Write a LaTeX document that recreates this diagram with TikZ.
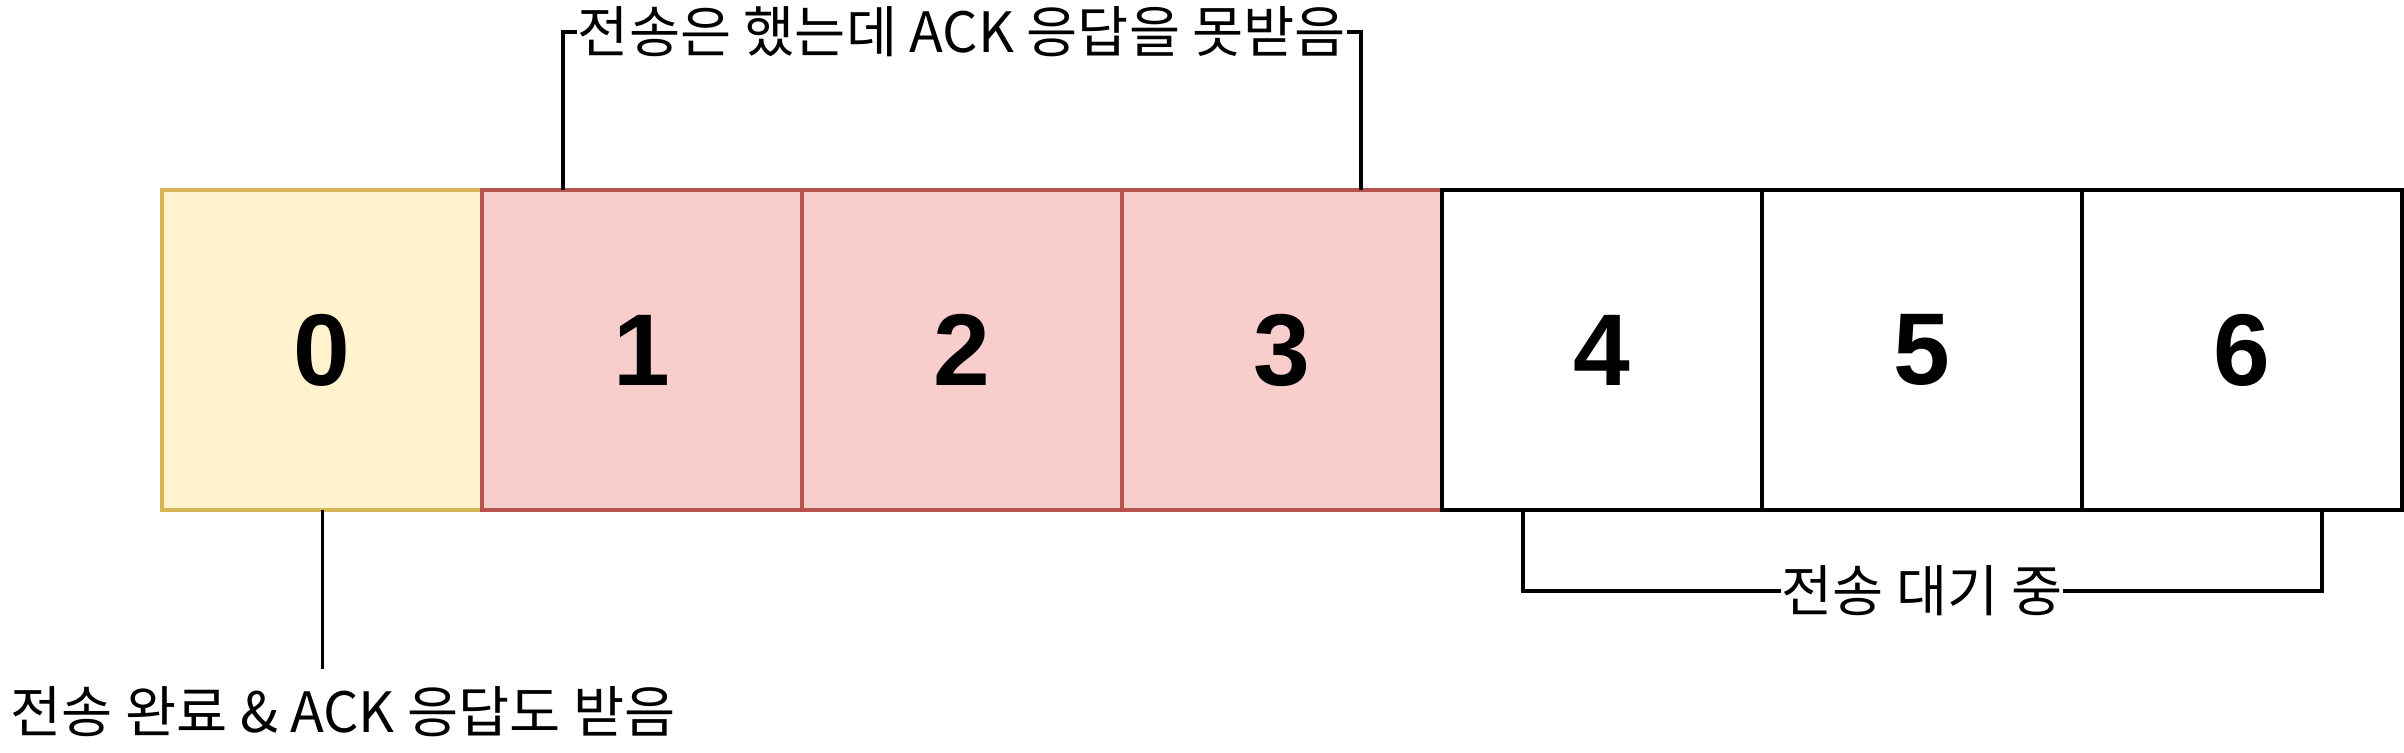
\documentclass[tikz,border=0pt]{standalone}
\usepackage{fontspec}
\newfontfamily\kr{Noto Sans CJK KR}
\newfontfamily\numfont{Liberation Sans}
\definecolor{yfill}{HTML}{FFF2CC}
\definecolor{ydraw}{HTML}{D6B656}
\definecolor{rfill}{HTML}{F8CECC}
\definecolor{rdraw}{HTML}{B85450}
\begin{document}
\begin{tikzpicture}[x=0.5pt,y=-0.5pt,
  cell/.style={minimum width=160pt,minimum height=160pt,inner sep=0pt,line width=2pt,
    font=\numfont\bfseries\fontsize{51}{51}\selectfont},
  ycell/.style={cell,draw=ydraw,fill=yfill},
  rcell/.style={cell,draw=rdraw,fill=rfill},
  wcell/.style={cell,draw=black,fill=white},
  lbl/.style={font=\kr\fontsize{27.8}{30}\selectfont,inner sep=0pt},
  wire/.style={line width=2pt,black}]
\useasboundingbox (0,0) rectangle (2404,752);
\node[ycell] (c0) at (322,350) {0};
\node[rcell] (c1) at (642,350) {1};
\node[rcell] (c2) at (962,350) {2};
\node[rcell] (c3) at (1282,350) {3};
\node[wcell] (c4) at (1602,350) {4};
\node[wcell] (c5) at (1922,350) {5};
\node[wcell] (c6) at (2242,350) {6};
\node[lbl] (top) at (962,32) {전송은 했는데 ACK 응답을 못받음};
\node[lbl] (wait) at (1922,591) {전송 대기 중};
\node[lbl] (done) at (343,712) {전송 완료 \& ACK 응답도 받음};
\coordinate (t1) at (563,190);
\coordinate (t2) at (1361,190);
\coordinate (b1) at (1523,510);
\coordinate (b2) at (2322,510);
\coordinate (d1) at (322,510);
\coordinate (d2) at (322,669);
\draw[wire] (t1) |- (top.west);
\draw[wire] (t2) |- (top.east);
\draw[wire] (b1) |- (wait.west);
\draw[wire] (b2) |- (wait.east);
\draw[wire,line width=1.5pt] (d1) -- (d2);
\end{tikzpicture}
\end{document}
